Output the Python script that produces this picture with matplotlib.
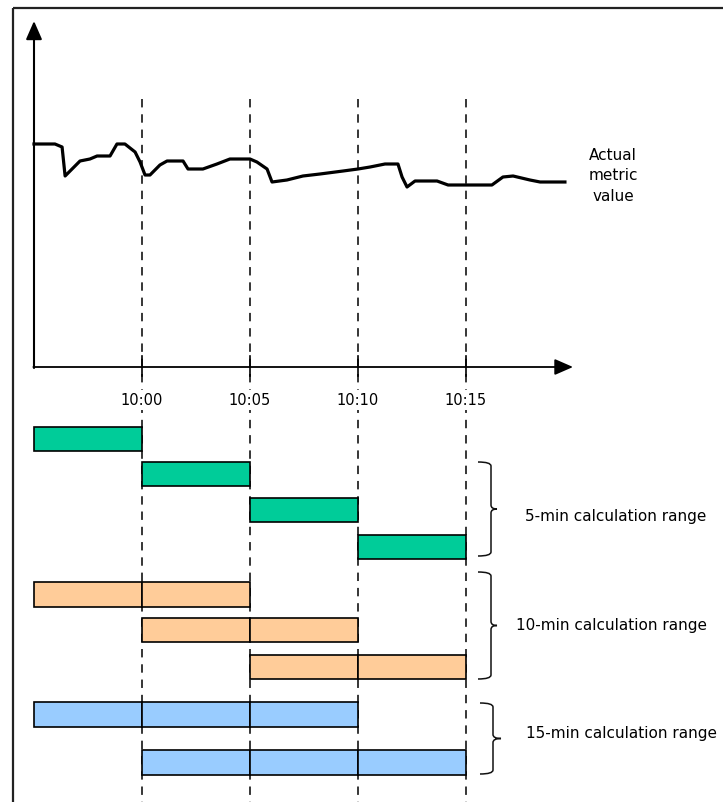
import matplotlib
matplotlib.use("Agg")
import matplotlib.pyplot as plt
from matplotlib.path import Path
from matplotlib.patches import PathPatch, Rectangle

# ---------------- data ----------------
# time in minutes relative to 10:00
tick_minutes = [0, 5, 10, 15]
tick_labels = ["10:00", "10:05", "10:10", "10:15"]

metric_t = [-5.00, -4.03, -3.70, -3.56, -2.87, -2.41, -2.08, -1.48, -1.16, -0.79,
            -0.32, -0.09, 0.14, 0.37, 0.83, 1.16, 1.90, 2.13, 2.82, 3.47,
            4.07, 5.00, 5.32, 5.79, 6.02, 6.71, 7.45, 8.24, 9.31, 10.00,
            10.56, 11.25, 11.85, 12.04, 12.27, 12.64, 13.66, 14.17, 15.05, 16.20,
            16.71, 17.18, 17.96, 18.43, 19.58]
metric_v = [223, 223, 220, 191, 206, 208, 211, 211, 223, 223,
            215, 205, 192, 192, 202, 206, 206, 198, 198, 203,
            208, 208, 205, 198, 185, 187, 191, 193, 196, 198,
            200, 203, 203, 190, 180, 186, 186, 182, 182, 182,
            190, 191, 187, 185, 185]

five_min_ranges = [(-5, 0), (0, 5), (5, 10), (10, 15)]
ten_min_ranges = [(-5, 5), (0, 10), (5, 15)]
fifteen_min_ranges = [(-5, 10), (0, 15)]

range_labels = ["5-min calculation range", "10-min calculation range",
                "15-min calculation range"]
metric_label = "Actual\nmetric\nvalue"

green = "#00CC99"
orange = "#FFCC99"
blue = "#99CCFF"

# ---------------- figure ----------------
W, H = 723, 803
fig = plt.figure(figsize=(W / 100, H / 100), dpi=100)

PX_PER_MIN = 21.6
X0 = 142  # pixel of 10:00
xlim = (-X0 / PX_PER_MIN, (W - X0) / PX_PER_MIN)

# axes for time-based marks, y in pixel rows
ax = fig.add_axes([0, 0, 1, 1])
ax.set_xlim(*xlim)
ax.set_ylim(H, 0)
ax.axis("off")

# axes for metric line (value 0 at baseline pixel 368, 1 unit = 1 px)
base = 368
ax2 = fig.add_axes([0, 0, 1, 1])
ax2.set_xlim(*xlim)
ax2.set_ylim(-(H - base), base)
ax2.axis("off")
ax2.patch.set_alpha(0)

# pixel axes for frame, braces, text
axp = fig.add_axes([0, 0, 1, 1])
axp.set_xlim(0, W)
axp.set_ylim(H, 0)
axp.axis("off")
axp.patch.set_alpha(0)

FONT = "DejaVu Sans"

# frame
axp.plot([13, W + 5], [9, 9], color="#222222", lw=1.6, solid_capstyle="butt")
axp.plot([13, 13], [9, H + 5], color="#222222", lw=1.6, solid_capstyle="butt")

# dashed vertical guide lines
for t in tick_minutes:
    ax.plot([t, t], [100, H], color="black", lw=1.1, dashes=(5.5, 4.5), zorder=1)

# metric axes (arrows)
x_origin = -5
ax2.annotate("", xy=(x_origin, base - 22), xytext=(x_origin, -1),
             arrowprops=dict(arrowstyle="-|>,head_length=0.8,head_width=0.35",
                             color="black", lw=1.5, mutation_scale=14,
                             shrinkA=0, shrinkB=0), zorder=4)
ax2.annotate("", xy=(xlim[0] + 573 / PX_PER_MIN, 0), xytext=(x_origin - 0.03, 0),
             arrowprops=dict(arrowstyle="-|>,head_length=0.8,head_width=0.35",
                             color="black", lw=1.3, mutation_scale=14,
                             shrinkA=0, shrinkB=0), zorder=4)
for t, lab in zip(tick_minutes, tick_labels):
    ax.plot([t, t], [357, 377], color="black", lw=1.2, zorder=3)
    ax.text(t, 401, lab, ha="center", va="center", fontsize=10.5, family=FONT,
            zorder=6, bbox=dict(facecolor="white", edgecolor="none", pad=1.5))

# metric line
ax2.plot(metric_t, metric_v, color="black", lw=2.3, solid_joinstyle="round", zorder=5)
axp.text(613, 176, metric_label, ha="center", va="center", fontsize=11,
         linespacing=1.45, family=FONT)

# bars
def draw_rows(ranges, rows, color):
    for (s, e), (y0, y1) in zip(ranges, rows):
        t = s
        while t < e:
            ax.add_patch(Rectangle((t, y0), 5, y1 - y0, facecolor=color,
                                   edgecolor="black", lw=1.2, zorder=2))
            t += 5

draw_rows(five_min_ranges, [(428, 452), (463, 487), (499, 523), (536, 560)], green)
draw_rows(ten_min_ranges, [(583, 608), (619, 643), (656, 680)], orange)
draw_rows(fifteen_min_ranges, [(703, 728), (751, 776)], blue)

# braces
def brace(x0, y0, y1, w=13, tip=6, r=4):
    ym = (y0 + y1) / 2
    xv = x0 + w
    verts = [(x0, y0), (xv, y0), (xv, y0 + r),
             (xv, ym - r), (xv, ym), (xv + tip, ym),
             (xv, ym), (xv, ym + r),
             (xv, y1 - r), (xv, y1), (x0, y1)]
    codes = [Path.MOVETO, Path.CURVE3, Path.CURVE3,
             Path.LINETO, Path.CURVE3, Path.CURVE3,
             Path.CURVE3, Path.CURVE3,
             Path.LINETO, Path.CURVE3, Path.CURVE3]
    axp.add_patch(PathPatch(Path(verts, codes), facecolor="none",
                            edgecolor="#111111", lw=1.1))

brace(478, 463, 557)
brace(478, 573, 680)
brace(480, 704, 775, tip=8)

axp.text(525, 517, range_labels[0], ha="left", va="center", fontsize=11, family=FONT)
axp.text(516, 626, range_labels[1], ha="left", va="center", fontsize=11, family=FONT)
axp.text(526, 734, range_labels[2], ha="left", va="center", fontsize=11, family=FONT)

fig.savefig("out.png", dpi=100)
